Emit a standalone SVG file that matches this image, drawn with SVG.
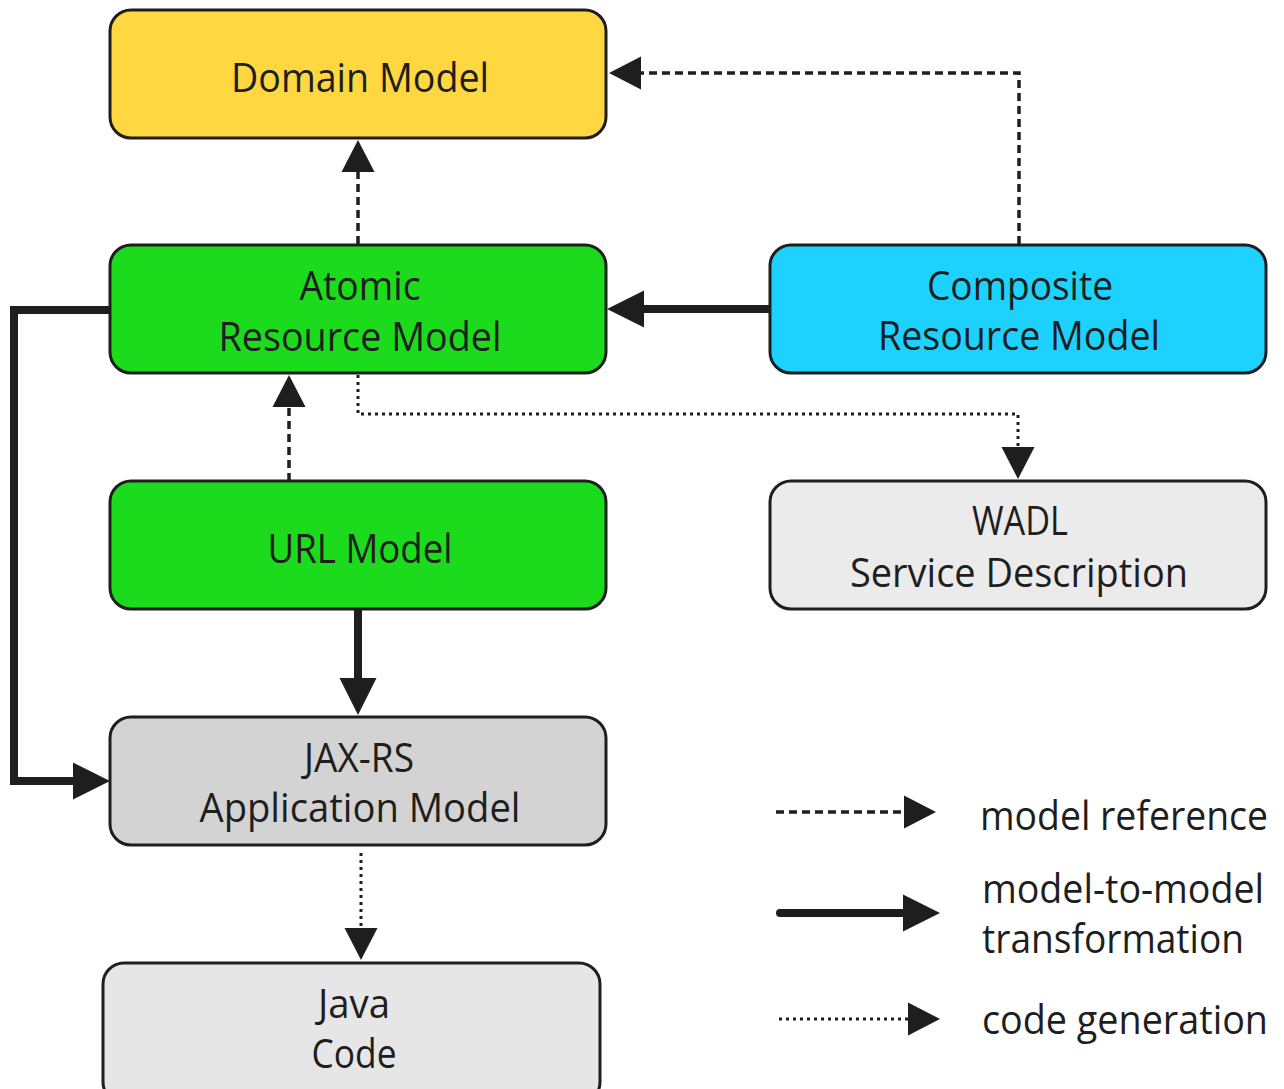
<svg xmlns="http://www.w3.org/2000/svg" width="1284" height="1089" viewBox="0 0 1284 1089">
<style>
.box{stroke:#1e1e1e;stroke-width:3}
.t{font-family:"Open Sans","Noto Sans","DejaVu Sans",sans-serif;font-size:40px;fill:#1e1e1e;text-anchor:middle}
.l{font-family:"Open Sans","Noto Sans","DejaVu Sans",sans-serif;font-size:40px;fill:#1e1e1e;text-anchor:start}
.c{fill:none;stroke:#1e1e1e}
.dash{stroke-width:3.5;stroke-dasharray:8 5}
.dot{stroke-width:3;stroke-dasharray:3 4}
.solid{stroke-width:8}
</style>
<defs>
<marker id="arr" markerUnits="userSpaceOnUse" markerWidth="34" markerHeight="34" refX="0" refY="16.5" orient="auto" overflow="visible">
<path d="M0,0 L32,16.5 L0,33 Z" fill="#1e1e1e"/>
</marker>
<marker id="arrBig" markerUnits="userSpaceOnUse" markerWidth="38" markerHeight="38" refX="0" refY="18.5" orient="auto" overflow="visible">
<path d="M0,0 L37,18.5 L0,37 Z" fill="#1e1e1e"/>
</marker>
</defs>
<rect width="1284" height="1089" fill="#ffffff"/>

<g id="connectors">
<path class="c dash" d="M358,244 V172" marker-end="url(#arr)"/>
<path class="c dash" d="M1019,244 V73 H641" marker-end="url(#arr)"/>
<path class="c solid" d="M770,309 H644" marker-end="url(#arrBig)"/>
<path class="c dash" d="M289,481 V407" marker-end="url(#arr)"/>
<path class="c dot" d="M358,375 V414 H1018 V447" marker-end="url(#arr)"/>
<path class="c solid" d="M358,609 V678" marker-end="url(#arrBig)"/>
<path class="c solid" d="M110,310 H14 V781 H73" marker-end="url(#arrBig)"/>
<path class="c dot" d="M361,853 V928" marker-end="url(#arr)"/>
</g>

<g id="domain-model">
<rect class="box" x="110" y="10" width="496" height="128" rx="21" fill="#ffd740"/>
<text class="t" x="360" y="92" textLength="258" lengthAdjust="spacingAndGlyphs">Domain Model</text>
</g>

<g id="atomic-resource-model">
<rect class="box" x="110" y="245" width="496" height="128" rx="21" fill="#1cdb1c"/>
<text class="t" x="360" y="300" textLength="121" lengthAdjust="spacingAndGlyphs">Atomic</text>
<text class="t" x="360" y="351" textLength="283" lengthAdjust="spacingAndGlyphs">Resource Model</text>
</g>

<g id="composite-resource-model">
<rect class="box" x="770" y="245" width="496" height="128" rx="21" fill="#1ed2ff"/>
<text class="t" x="1020" y="300" textLength="186" lengthAdjust="spacingAndGlyphs">Composite</text>
<text class="t" x="1019" y="350" textLength="282" lengthAdjust="spacingAndGlyphs">Resource Model</text>
</g>

<g id="url-model">
<rect class="box" x="110" y="481" width="496" height="128" rx="21" fill="#1cdb1c"/>
<text class="t" x="360" y="563" textLength="185" lengthAdjust="spacingAndGlyphs">URL Model</text>
</g>

<g id="wadl">
<rect class="box" x="770" y="481" width="496" height="128" rx="21" fill="#ebebeb"/>
<text class="t" x="1020" y="535" textLength="96" lengthAdjust="spacingAndGlyphs">WADL</text>
<text class="t" x="1019" y="587" textLength="338" lengthAdjust="spacingAndGlyphs">Service Description</text>
</g>

<g id="jax-rs-application-model">
<rect class="box" x="110" y="717" width="496" height="128" rx="21" fill="#d3d3d3"/>
<text class="t" x="359" y="772" textLength="110" lengthAdjust="spacingAndGlyphs">JAX-RS</text>
<text class="t" x="360" y="822" textLength="321" lengthAdjust="spacingAndGlyphs">Application Model</text>
</g>

<g id="java-code">
<rect class="box" x="103" y="963" width="497" height="140" rx="21" fill="#e6e6e6"/>
<text class="t" x="354" y="1018" textLength="72" lengthAdjust="spacingAndGlyphs">Java</text>
<text class="t" x="354" y="1068" textLength="85" lengthAdjust="spacingAndGlyphs">Code</text>
</g>

<g id="legend">
<path class="c dash" d="M776,812 H904" marker-end="url(#arr)"/>
<path class="c solid" d="M780,913 H903" stroke-linecap="round" marker-end="url(#arrBig)"/>
<path class="c dot" d="M779,1019 H908" marker-end="url(#arr)"/>
<text class="l" x="980" y="830" textLength="288" lengthAdjust="spacingAndGlyphs">model reference</text>
<text class="l" x="982" y="903" textLength="282" lengthAdjust="spacingAndGlyphs">model-to-model</text>
<text class="l" x="982" y="953" textLength="262" lengthAdjust="spacingAndGlyphs">transformation</text>
<text class="l" x="982" y="1034" textLength="286" lengthAdjust="spacingAndGlyphs">code generation</text>
</g>
</svg>
